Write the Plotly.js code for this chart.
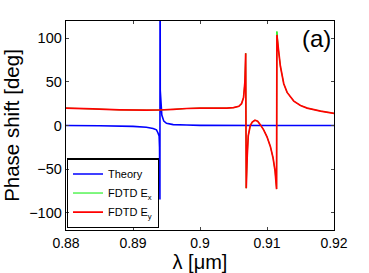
<!DOCTYPE html>
<html>
<head>
<meta charset="utf-8">
<script src="https://cdn.plot.ly/plotly-3.0.1.min.js"></script>
<style>html,body{margin:0;padding:0;background:#fff;}#chart{width:369px;height:273px;}</style>
</head>
<body>
<div id="chart"></div>
<script>
// Theory (blue)
var theoryX = [0.88, 0.885, 0.89, 0.892, 0.893, 0.8935, 0.8937, 0.8939, 0.89396, 0.89402, 0.89404, 0.89407, 0.8943, 0.8946, 0.895, 0.896, 0.898, 0.90, 0.91, 0.92];
var theoryY = [0, -0.3, -1, -2, -3.5, -5, -8, -12, -25, -85, 250, 40, 12, 5, 2.5, 1, 0.5, 0.2, 0, 0];

// FDTD Ex (green)
var exX = [0.88, 0.884, 0.888, 0.892, 0.894, 0.896, 0.898, 0.9, 0.902, 0.904, 0.905, 0.9058, 0.9062, 0.9065, 0.9067, 0.90682, 0.9069, 0.90705, 0.9072, 0.9075, 0.9078, 0.9082, 0.9086, 0.909, 0.9095, 0.910, 0.9105, 0.9109, 0.9112, 0.91143, 0.91148, 0.9117, 0.912, 0.9125, 0.913, 0.914, 0.915, 0.916, 0.918, 0.92];
var exY = [20, 19, 18, 17.6, 17.8, 18.5, 19.5, 20, 20, 20, 20.5, 22, 25, 32, 50, 83, -72, -35, -12, 0, 4, 6, 5, 1, -5, -13, -24, -37, -52, -73, 108, 88, 68, 48, 38, 28, 23, 20, 16.5, 14];

// FDTD Ey (red)
var eyX = exX.slice();
var eyY = [20, 19, 18, 17.6, 17.8, 18.5, 19.5, 20, 20, 20, 20.5, 22, 25, 32, 50, 83, -72, -35, -12, 0, 4, 6, 5, 1, -5, -13, -24, -37, -52, -73, 104, 88, 68, 48, 38, 28, 23, 20, 16.5, 14];

var xTicks = [0.88, 0.89, 0.9, 0.91, 0.92];
var yTicks = [-100, -50, 0, 50, 100];

var font = 'Liberation Sans, Arial, sans-serif';
var traces = [
  {x: theoryX, y: theoryY, mode: 'lines', name: 'Theory', line: {color: '#0000ff', width: 1.6, simplify: false}},
  {x: exX, y: exY, mode: 'lines', name: 'FDTD E<sub>x</sub>', line: {color: '#00ee00', width: 1.0, simplify: false}},
  {x: eyX, y: eyY, mode: 'lines', name: 'FDTD E<sub>y</sub>', line: {color: '#ff0000', width: 1.7, simplify: false}}
];
var layout = {
  width: 369, height: 273,
  margin: {l: 66, r: 35, t: 21, b: 43},
  paper_bgcolor: '#fff', plot_bgcolor: '#fff',
  font: {family: font, color: '#000', size: 14},
  showlegend: true,
  legend: {x: 0.003, y: 0.008, xanchor: 'left', yanchor: 'bottom', bordercolor: '#000', borderwidth: 1.2,
           bgcolor: 'rgba(255,255,255,0)', font: {size: 11, family: font}, tracegroupgap: 0, itemwidth: 30},
  xaxis: {range: [0.88, 0.92], tickvals: xTicks, ticktext: xTicks.map(String), ticks: 'inside', ticklen: 3,
          showline: true, linecolor: '#000', linewidth: 1.3, mirror: 'ticks', showgrid: false, zeroline: false,
          title: {text: 'λ [μm]', font: {size: 20}, standoff: 2}, tickfont: {size: 14}},
  yaxis: {range: [-120, 120], tickvals: yTicks, ticks: 'inside', ticklen: 3,
          showline: true, linecolor: '#000', linewidth: 1.3, mirror: 'ticks', showgrid: false, zeroline: false,
          title: {text: 'Phase shift [deg]', font: {size: 20.5}, standoff: 6}, tickfont: {size: 14.5}},
  annotations: [{text: '(a)', xref: 'paper', yref: 'paper', x: 0.997, y: 0.99, xanchor: 'right', yanchor: 'top',
                 showarrow: false, font: {size: 24, family: font}}]
};
Plotly.newPlot('chart', traces, layout, {staticPlot: true});
</script>
</body>
</html>
